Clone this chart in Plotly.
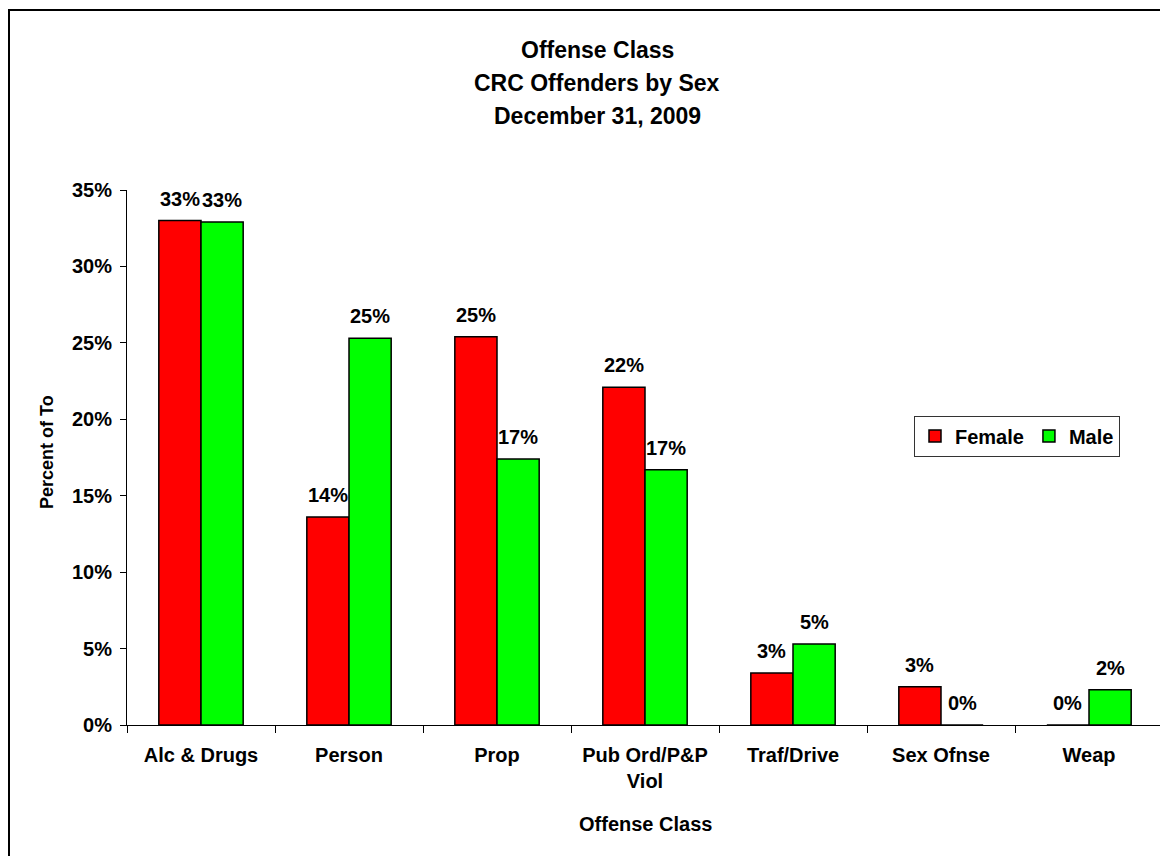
import plotly.graph_objects as go

categories = ["Alc & Drugs", "Person", "Prop", "Pub Ord/P&P<br>Viol", "Traf/Drive", "Sex Ofnse", "Weap"]
female = [33.0, 13.6, 25.4, 22.1, 3.4, 2.5, 0.0]
male = [32.9, 25.3, 17.4, 16.7, 5.3, 0.0, 2.3]
female_labels = ["33%", "14%", "25%", "22%", "3%", "3%", "0%"]
male_labels = ["33%", "25%", "17%", "17%", "5%", "0%", "2%"]
y_tick_vals = [0, 5, 10, 15, 20, 25, 30, 35]
y_tick_text = ["0%", "5%", "10%", "15%", "20%", "25%", "30%", "35%"]

FONT = "Liberation Sans, Arial, sans-serif"
W, H = 1168, 856
OFF = 8  # page body margin
# plot area in page pixels: x 127..1163, y 190..725
L = 127 - OFF
T = 190 - OFF
R = W - (1163 - OFF)
B = H - (725 - OFF)
PW = W - L - R
PH = H - T - B

def px_to_paper_x(p):
    return (p - OFF - L) / PW

def px_to_paper_y(p):
    return (H - B - (p - OFF)) / PH

fig = go.Figure()
fig.add_trace(go.Bar(name="Female", x=categories, y=female,
                     marker=dict(color="#FF0000", line=dict(color="black", width=1.5))))
fig.add_trace(go.Bar(name="Male", x=categories, y=male,
                     marker=dict(color="#00FF00", line=dict(color="black", width=1.5))))

bargap = 0.43
cat_w = PW / len(categories)
bar_w = cat_w * (1 - bargap) / 2
lab_font = dict(family=FONT, size=20, color="black", weight="bold")
annotations = []
for c, v, t in zip(categories, female, female_labels):
    annotations.append(dict(x=c, y=v, xref="x", yref="y", text=t, showarrow=False,
                            xshift=-bar_w / 2, yshift=22, yanchor="middle", font=lab_font))
for c, v, t in zip(categories, male, male_labels):
    annotations.append(dict(x=c, y=v, xref="x", yref="y", text=t, showarrow=False,
                            xshift=bar_w / 2, yshift=22, yanchor="middle", font=lab_font))

title_lines = ["Offense Class", "CRC Offenders by Sex", "December 31, 2009"]
for line, py in zip(title_lines, [50, 83, 116]):
    annotations.append(dict(x=px_to_paper_x(597), y=px_to_paper_y(py), xref="paper", yref="paper",
                            text=line, showarrow=False, xanchor="center", yanchor="middle",
                            font=dict(family=FONT, size=23, color="black", weight="bold")))

annotations.append(dict(x=px_to_paper_x(47), y=px_to_paper_y(452), xref="paper", yref="paper",
                        text="Percent of To", showarrow=False, textangle=-90,
                        xanchor="center", yanchor="middle",
                        font=dict(family=FONT, size=18, color="black", weight="bold")))
annotations.append(dict(x=px_to_paper_x(645), y=px_to_paper_y(824), xref="paper", yref="paper",
                        text="Offense Class", showarrow=False, xanchor="center", yanchor="middle",
                        font=lab_font))

fig.update_layout(
    width=W, height=H,
    margin=dict(l=L, r=R, t=T, b=B, autoexpand=False),
    paper_bgcolor="white", plot_bgcolor="white",
    barmode="group", bargap=bargap, bargroupgap=0,
    showlegend=True,
    legend=dict(orientation="h", x=px_to_paper_x(1017), y=px_to_paper_y(436),
                xanchor="center", yanchor="middle",
                bordercolor="#333333", borderwidth=1, bgcolor="white",
                font=lab_font, itemwidth=30, tracegroupgap=0),
    annotations=annotations,
    shapes=[dict(type="rect", xref="paper", yref="paper",
                 x0=px_to_paper_x(9), x1=px_to_paper_x(1190),
                 y0=px_to_paper_y(880), y1=px_to_paper_y(10),
                 line=dict(color="black", width=2), fillcolor="rgba(0,0,0,0)", layer="below")],
)

fig.update_xaxes(showline=True, linecolor="black", linewidth=1,
                 ticks="outside", tickson="boundaries", ticklen=7, tickcolor="black",
                 showgrid=False, automargin=False, ticklabelstandoff=12,
                 tickfont=lab_font)
fig.update_yaxes(range=[0, 35], tickmode="array", tickvals=y_tick_vals, ticktext=y_tick_text,
                 showline=True, linecolor="black", linewidth=1,
                 ticks="outside", ticklen=6, tickcolor="black",
                 showgrid=False, zeroline=False, automargin=False, ticklabelstandoff=4,
                 tickfont=lab_font)

fig.write_html("out.html")
